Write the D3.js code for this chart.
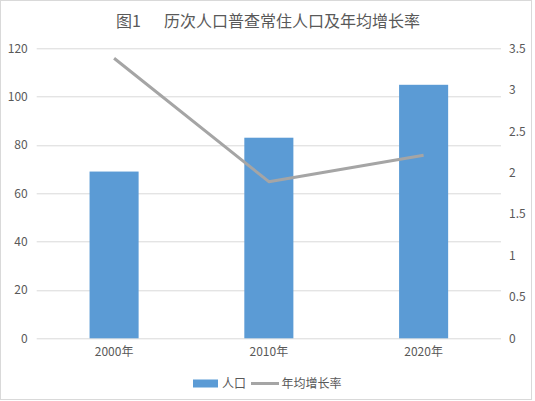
<!DOCTYPE html>
<html>
<head>
<meta charset="utf-8">
<script src="https://d3js.org/d3.v7.min.js"></script>
<style>
  body { margin: 0; background: #fff; }
  svg { display: block; font-family: "Noto Sans CJK SC", "Noto Sans", sans-serif; }
</style>
</head>
<body>
<svg id="chart"></svg>
<script>
// data
const years = ["2000年", "2010年", "2020年"];
const population = [69.0, 83.0, 104.9];
const growthRate = [3.38, 1.89, 2.21];
const leftTicks = [0, 20, 40, 60, 80, 100, 120];
const rightTicks = [0, 0.5, 1, 1.5, 2, 2.5, 3, 3.5];
const seriesNames = ["人口", "年均增长率"];
const titleParts = ["图1", "历次人口普查常住人口及年均增长率"];

const width = 535, height = 401;
const margin = {top: 48.3, right: 34, bottom: 62.7, left: 36.7};
const innerW = width - margin.left - margin.right;
const innerH = height - margin.top - margin.bottom;

const textColor = "#595959";
const barColor = "#5b9bd5";
const lineColor = "#a5a5a5";
const gridColor = "#d9d9d9";

const svg = d3.select("#chart")
    .attr("width", width)
    .attr("height", height);

// chart frame
svg.append("rect")
    .attr("x", 0.5).attr("y", 0.5)
    .attr("width", 531).attr("height", 399)
    .attr("fill", "#fff")
    .attr("stroke", gridColor);

// title
const title = svg.append("text")
    .attr("x", 116)
    .attr("y", 27)
    .attr("fill", textColor)
    .style("font-size", "16px");
title.append("tspan").text(titleParts[0]);
title.append("tspan").attr("x", 164).text(titleParts[1]);

const chart = svg.append("g")
    .attr("transform", `translate(${margin.left}, ${margin.top})`);

const xscale = d3.scaleBand()
    .domain(years)
    .range([0, innerW])
    .paddingInner(0.683)
    .paddingOuter(0.3415);

const yscale = d3.scaleLinear()
    .domain([0, 120])
    .range([innerH, 0]);

const y2scale = d3.scaleLinear()
    .domain([0, 3.5])
    .range([innerH, 0]);

// gridlines
chart.append("g")
    .selectAll("line")
    .data(leftTicks)
    .join("line")
    .attr("x1", 0)
    .attr("x2", innerW)
    .attr("y1", d => Math.round(yscale(d)) + 0.5)
    .attr("y2", d => Math.round(yscale(d)) + 0.5)
    .attr("stroke", gridColor)
    .attr("stroke-width", 1);

// bars
chart.append("g")
    .selectAll("rect")
    .data(population)
    .join("rect")
    .attr("x", (d, i) => xscale(years[i]))
    .attr("y", d => yscale(d))
    .attr("width", xscale.bandwidth())
    .attr("height", d => innerH - yscale(d))
    .attr("fill", barColor);

// line
const line = d3.line()
    .x((d, i) => xscale(years[i]) + xscale.bandwidth() / 2)
    .y(d => y2scale(d));

chart.append("path")
    .datum(growthRate)
    .attr("d", line)
    .attr("fill", "none")
    .attr("stroke", lineColor)
    .attr("stroke-width", 3)
    .attr("stroke-linejoin", "round");

// axes
function styleAxis(g) {
    g.select(".domain").remove();
    g.selectAll(".tick line").remove();
    g.selectAll("text")
        .attr("fill", textColor)
        .style("font-size", "12px")
        .style("font-family", "\"Noto Sans CJK SC\", sans-serif");
}

chart.append("g")
    .call(d3.axisLeft(yscale).tickValues(leftTicks).tickSize(0).tickPadding(9))
    .call(styleAxis);

chart.append("g")
    .attr("transform", `translate(${innerW}, 0)`)
    .call(d3.axisRight(y2scale).tickValues(rightTicks).tickFormat(d => String(d)).tickSize(0).tickPadding(8))
    .call(styleAxis);

chart.append("g")
    .attr("transform", `translate(0, ${innerH})`)
    .call(d3.axisBottom(xscale).tickSize(0).tickPadding(9))
    .call(styleAxis);

// legend
const legend = svg.append("g")
    .attr("transform", "translate(193, 383.5)");

legend.append("rect")
    .attr("x", 0).attr("y", -4)
    .attr("width", 25).attr("height", 8)
    .attr("fill", barColor);
legend.append("text")
    .attr("x", 29).attr("y", 4.5)
    .attr("fill", textColor)
    .style("font-size", "12px")
    .text(seriesNames[0]);

legend.append("line")
    .attr("x1", 58).attr("x2", 86)
    .attr("y1", 0).attr("y2", 0)
    .attr("stroke", lineColor)
    .attr("stroke-width", 3);
legend.append("text")
    .attr("x", 88.5).attr("y", 4.5)
    .attr("fill", textColor)
    .style("font-size", "12px")
    .text(seriesNames[1]);
</script>
</body>
</html>
